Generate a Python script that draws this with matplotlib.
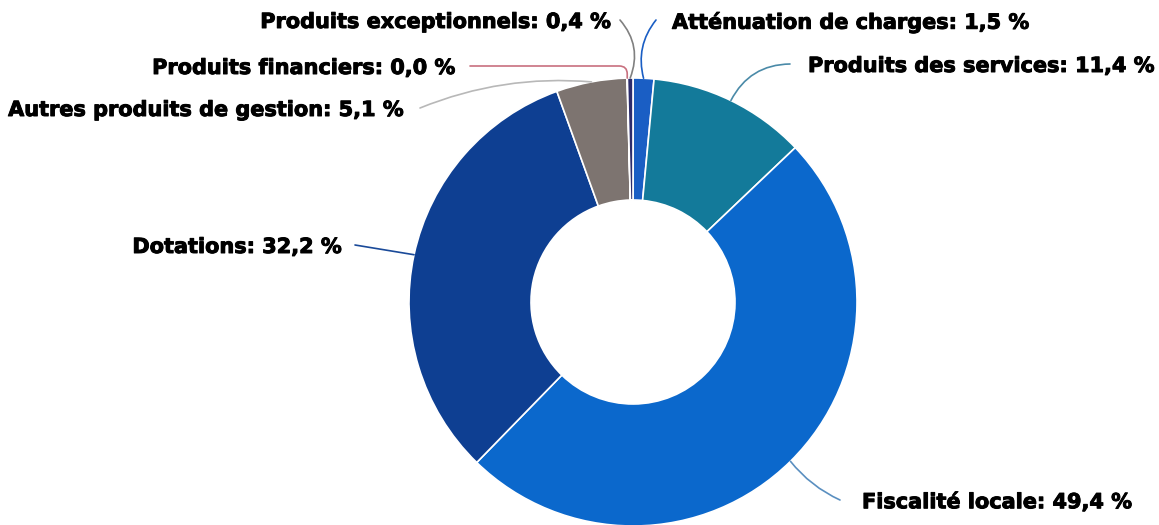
import numpy as np
import matplotlib.pyplot as plt
import matplotlib.patheffects as pe

labels = [
    'Atténuation de charges',
    'Produits des services',
    'Fiscalité locale',
    'Dotations',
    'Autres produits de gestion',
    'Produits financiers',
    'Produits exceptionnels',
]
values = [1.5, 11.4, 49.4, 32.2, 5.1, 0.02, 0.4]
shown = ['1,5', '11,4', '49,4', '32,2', '5,1', '0,0', '0,4']

colors = ['#1a5ec4', '#137a9a', '#0b68cc', '#0e3f92', '#7d7470', '#c8707f', '#2c2c6c']
line_colors = ['#1a5ec4', '#4a8aa8', '#5a8fc0', '#1a4a99', '#b8b8b8', '#c8707f', '#808080']

# label anchor (pixels from top-left), alignment, connector end gap
label_pos = [(672, 22, 'left'), (808, 66, 'left'), (862, 502, 'left'),
             (342, 247, 'right'), (405, 110, 'right'), (456, 68, 'right'),
             (612, 22, 'right')]
gaps = [16, 18, 22, 13, 15, 14, 8]
styles = ['arc3,rad=0.25', 'arc3,rad=0.3', 'arc3,rad=-0.12', 'arc3,rad=0.0',
          'arc3,rad=-0.12', 'angle,angleA=0,angleB=90,rad=8',
          'arc3,rad=-0.3']

W, H = 1159, 525
cx, cy, R = 633, H - 302, 224

fig = plt.figure(figsize=(W / 100, H / 100), dpi=100)
ax = fig.add_axes([0, 0, 1, 1])

wedges, _ = ax.pie(
    values,
    colors=colors,
    startangle=90,
    counterclock=False,
    center=(cx, cy),
    radius=R,
    wedgeprops=dict(width=R - 102, edgecolor='white', linewidth=1.2),
)
ax.set_xlim(0, W)
ax.set_ylim(0, H)
ax.set_aspect('equal')
ax.axis('off')

for w, lab, val, lc, (tx, ty, ha), gap, st in zip(
        wedges, labels, shown, line_colors, label_pos, gaps, styles):
    ang = np.deg2rad((w.theta1 + w.theta2) / 2)
    px = cx + R * np.cos(ang)
    py = cy + R * np.sin(ang)
    ex = tx - gap if ha == 'left' else tx + gap
    ax.annotate(
        '',
        xy=(px, py),
        xytext=(ex, H - ty + 2),
        arrowprops=dict(arrowstyle='-', color=lc, lw=1.2,
                        shrinkA=0, shrinkB=0, connectionstyle=st),
    )
    ax.text(tx, H - ty, f'{lab}: {val} %', ha=ha, va='center',
            fontsize=15, fontweight='bold', color='black',
            path_effects=[pe.withStroke(linewidth=0.7, foreground='black')])

fig.savefig('out.png', dpi=100)
